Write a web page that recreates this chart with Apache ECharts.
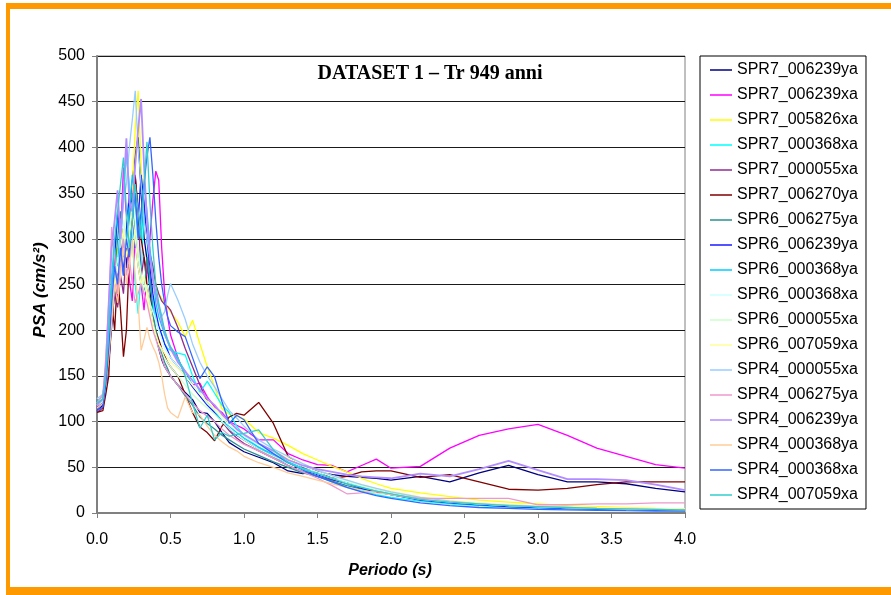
<!DOCTYPE html>
<html>
<head>
<meta charset="utf-8">
<script src="https://cdn.jsdelivr.net/npm/echarts/dist/echarts.min.js"></script>
<style>
  html, body { margin: 0; padding: 0; background: #ffffff; }
  #chart { width: 891px; height: 595px; }
</style>
</head>
<body>
<div id="chart"></div>
<script>
// Periods (s) at which the response spectra are sampled
const periods = [
  0, 0.04, 0.06, 0.08, 0.10, 0.12, 0.14, 0.16, 0.18, 0.20, 0.22, 0.24, 0.26, 0.28, 0.30,
  0.32, 0.34, 0.36, 0.38, 0.40, 0.42, 0.44, 0.46, 0.48, 0.50,
  0.55, 0.60, 0.65, 0.70, 0.75, 0.80, 0.85, 0.90, 0.95, 1.0,
  1.1, 1.2, 1.3, 1.4, 1.5, 1.6, 1.7, 1.8, 1.9, 2.0,
  2.2, 2.4, 2.6, 2.8, 3.0, 3.2, 3.4, 3.6, 3.8, 4.0
];

const xTicks = [0, 0.5, 1.0, 1.5, 2.0, 2.5, 3.0, 3.5, 4.0];
const yTicks = [0, 50, 100, 150, 200, 250, 300, 350, 400, 450, 500];

const recordNames = [
  'SPR7_006239ya', 'SPR7_006239xa', 'SPR7_005826xa', 'SPR7_000368xa', 'SPR7_000055xa',
  'SPR7_006270ya', 'SPR6_006275ya', 'SPR6_006239ya', 'SPR6_000368ya', 'SPR6_000368xa',
  'SPR6_000055xa', 'SPR6_007059xa', 'SPR4_000055xa', 'SPR4_006275ya', 'SPR4_006239ya',
  'SPR4_000368ya', 'SPR4_000368xa', 'SPR4_007059xa'
];

const recordColors = [
  '#000080', '#FF00FF', '#FFFF00', '#00FFFF', '#902c90',
  '#800000', '#2a9090', '#1a1aff', '#00CCFF', '#CCFFFF',
  '#CCFFCC', '#FFFF99', '#99CCFF', '#EE99CC', '#B38CFF',
  '#FFCC99', '#3366FF', '#33CCCC'
];

// PSA values (cm/s^2), one array per record, aligned with `periods`
const spr7_006239ya = [
  112,118,135,165,205,245,228,275,300,268,330,362,392,411,352,302,277,245,215,195,180,168,160,155,150,
  140,132,124,110,109,100,88,77,72,67,
  61,55,46,43,45,42,40,39,38,36,
  40,34,44,52,42,34,34,32,27,23
];
const spr7_006239xa = [
  115,122,150,195,250,262,232,300,378,322,255,232,300,282,250,222,262,300,342,374,364,290,240,215,195,
  170,150,140,142,127,116,110,100,96,92,
  80,80,65,58,53,52,45,52,59,49,
  51,71,85,92,97,85,71,62,53,49
];
const spr7_005826xa = [
  120,125,160,200,245,250,290,265,310,280,300,350,420,462,380,330,300,280,262,250,240,235,230,225,220,
  209,193,211,185,160,138,114,108,106,103,
  88,82,74,65,58,51,45,38,32,27,
  22,18,14,12,10,8,7,6,5,4.5
];
const spr7_000368xa = [
  118,122,140,185,230,280,320,300,350,390,360,300,250,218,260,330,300,250,230,210,200,195,185,180,178,
  175,173,150,132,144,131,118,110,95,85,
  72,62,52,45,40,34,28,24,20,17,
  13,10,8,6.5,5.5,4.5,4,3.5,3,2.5
];
const spr7_000055xa = [
  110,115,138,170,210,240,225,260,240,290,310,340,370,330,258,280,262,284,270,250,240,232,228,226,222,
  203,180,160,140,122,110,100,90,82,76,
  68,60,52,45,40,36,33,28,25,22,
  16,12,10,8.5,7,6,5.5,5,4.5,4
];
const spr7_006270ya = [
  110,112,130,150,230,200,262,222,171,200,282,330,368,330,300,280,250,232,212,200,190,180,172,165,160,
  150,130,110,94,88,79,95,105,109,107,
  121,98,62,50,46,38,40,45,46,46,
  39,42,34,26,25,27,31,34,34,34
];
const spr6_006275ya = [
  120,124,145,180,220,260,300,330,300,280,320,350,300,270,250,240,280,260,220,200,185,175,165,158,150,
  140,128,118,105,98,92,85,80,75,70,
  63,56,50,44,40,35,30,26,23,20,
  15,12,10,8.5,7,6,5,4.5,4,3.5
];
const spr6_006239ya = [
  115,120,150,190,240,280,330,300,260,310,350,330,290,320,370,340,300,270,240,220,205,195,185,178,170,
  160,150,138,128,118,110,100,92,85,80,
  70,62,55,48,42,37,32,27,23,20,
  14,11,9,7,6,5,4.5,4,3.5,3
];
const spr6_000368ya = [
  122,128,155,200,250,290,270,320,280,300,330,370,340,300,320,360,330,290,260,230,215,205,195,188,180,
  168,155,140,130,120,112,100,95,88,82,
  72,64,56,49,43,38,33,28,24,21,
  15,12,9.5,8,6.5,5.5,5,4.5,4,3.5
];
const spr6_000368xa = [
  125,128,150,185,230,270,250,300,320,290,310,340,320,280,260,250,240,230,220,210,200,190,180,175,170,
  160,150,140,130,120,112,104,96,90,84,
  74,66,58,51,45,40,35,30,26,23,
  17,13,11,9,7.5,6.5,5.5,5,4.5,4
];
const spr6_000055xa = [
  118,122,140,175,215,250,280,260,300,330,300,280,310,290,260,240,250,230,210,195,185,178,170,165,160,
  150,140,130,122,115,108,100,92,86,80,
  70,62,55,48,43,38,33,29,25,22,
  16,12.5,10,8,7,6,5,4.5,4,3.5
];
const spr6_007059xa = [
  120,125,145,180,220,260,240,290,310,280,300,330,300,270,250,260,240,220,205,195,185,180,175,170,165,
  158,150,140,130,122,114,106,98,92,86,
  76,68,60,53,47,41,36,31,27,24,
  18,14,11,9,8,7,6,5.5,5,4.5
];
const spr4_000055xa = [
  125,130,150,185,230,270,250,300,340,360,400,430,462,400,360,320,300,280,260,240,225,215,220,238,251,
  233,212,185,165,150,138,125,112,104,95,
  80,70,62,54,47,41,36,31,27,23,
  17,13,10,8.5,7,6,5,4.5,4,3.5
];
const spr4_006275ya = [
  120,130,170,230,313,280,240,270,300,260,280,250,230,240,251,240,230,215,200,190,180,170,160,155,150,
  140,130,120,112,106,100,92,85,80,75,
  68,60,52,45,38,30,21,22,24,20,
  16,16,16,16,9,9,10,10,11,11
];
const spr4_006239ya = [
  118,125,160,230,290,320,353,300,350,410,340,330,380,420,453,380,320,280,255,240,225,210,198,188,180,
  165,155,145,135,125,118,108,100,92,86,
  76,68,58,52,48,45,42,40,39,38,
  43,40,48,57,47,37,37,36,31,25
];
const spr4_000368ya = [
  115,120,140,170,210,250,230,260,290,250,270,300,260,230,178,190,203,190,182,175,165,150,130,115,110,
  104,127,110,107,95,85,78,72,68,62,
  55,50,44,40,36,32,28,25,22,20,
  15,12,10,8,7,6,5,4.5,4,3.5
];
const spr4_000368xa = [
  112,116,140,180,230,270,250,290,260,300,280,320,350,300,330,360,390,411,370,320,280,250,230,215,205,
  198,193,170,147,160,149,122,98,107,102,
  76,65,55,47,40,34,28,23,19,16,
  11,8,6,5,4,3.5,3,2.5,2.2,2
];
const spr4_007059xa = [
  120,125,150,200,260,300,330,360,389,330,290,320,360,330,300,360,406,340,290,250,230,215,200,190,182,
  170,150,120,93,107,80,88,84,86,87,
  91,69,55,48,43,38,32,28,24,21,
  15,12,10,8,7,6,5,4.5,4,3.5
];

const recordValues = [
  spr7_006239ya, spr7_006239xa, spr7_005826xa, spr7_000368xa, spr7_000055xa,
  spr7_006270ya, spr6_006275ya, spr6_006239ya, spr6_000368ya, spr6_000368xa,
  spr6_000055xa, spr6_007059xa, spr4_000055xa, spr4_006275ya, spr4_006239ya,
  spr4_000368ya, spr4_000368xa, spr4_007059xa
];

const chart = echarts.init(document.getElementById('chart'), null, { renderer: 'canvas' });

const series = recordNames.map((name, k) => ({
  name: name,
  type: 'line',
  symbol: 'none',
  showSymbol: false,
  animation: false,
  lineStyle: { color: recordColors[k], width: k === 14 ? 1.8 : 1.3 },
  itemStyle: { color: recordColors[k] },
  data: periods.map((t, i) => [t, recordValues[k][i]])
}));

const option = {
  backgroundColor: '#ffffff',
  animation: false,
  textStyle: { fontFamily: 'Liberation Sans, Arial, sans-serif' },
  grid: {
    left: 97, top: 56, right: 206, bottom: 82,
    show: true, borderColor: '#808080', borderWidth: 1, backgroundColor: '#ffffff'
  },
  xAxis: {
    type: 'value',
    min: xTicks[0], max: xTicks[xTicks.length - 1], interval: 0.5,
    axisLine: { show: true, lineStyle: { color: '#808080', width: 2 } },
    axisTick: { show: true, length: 5, lineStyle: { color: '#808080', width: 1 } },
    axisLabel: {
      color: '#000', fontSize: 16, margin: 19,
      formatter: v => v.toFixed(1)
    },
    splitLine: { show: false }
  },
  yAxis: {
    type: 'value',
    min: yTicks[0], max: yTicks[yTicks.length - 1], interval: 50,
    axisLine: { show: true, lineStyle: { color: '#808080', width: 2 } },
    axisTick: { show: true, length: 5, lineStyle: { color: '#808080', width: 1 } },
    axisLabel: { color: '#000', fontSize: 16, margin: 12 },
    splitLine: { show: true, lineStyle: { color: '#1a1a1a', width: 1 } }
  },
  legend: {
    orient: 'vertical',
    left: 700, top: 56,
    padding: [6, 8, 6, 10],
    icon: 'rect',
    itemWidth: 22, itemHeight: 1.5, itemGap: 9,
    borderColor: '#000', borderWidth: 1,
    backgroundColor: '#ffffff',
    textStyle: { color: '#000', fontSize: 16, lineHeight: 16 },
    data: recordNames
  },
  graphic: [
    // orange frame around the page
    { type: 'rect', shape: { x: 6, y: 3, width: 890, height: 6 }, style: { fill: '#FF9900' }, z: 100 },
    { type: 'rect', shape: { x: 6, y: 3, width: 4, height: 592 }, style: { fill: '#FF9900' }, z: 100 },
    { type: 'rect', shape: { x: 6, y: 587, width: 890, height: 8 }, style: { fill: '#FF9900' }, z: 100 },
    {
      type: 'text', z: 50,
      x: 430, y: 74,
      style: {
        text: 'DATASET 1 \u2013 Tr 949 anni',
        fill: '#000', font: 'bold 20px "Liberation Serif", "Times New Roman", serif',
        textAlign: 'center', textVerticalAlign: 'middle'
      }
    },
    {
      type: 'text', z: 50,
      x: 390, y: 571,
      style: {
        text: 'Periodo (s)',
        fill: '#000', font: 'italic bold 16px "Liberation Sans", Arial, sans-serif',
        textAlign: 'center', textVerticalAlign: 'middle'
      }
    },
    {
      type: 'text', z: 50,
      x: 40, y: 290, rotation: Math.PI / 2,
      style: {
        text: 'PSA (cm/s\u00B2)',
        fill: '#000', font: 'italic bold 17px "Liberation Sans", Arial, sans-serif',
        textAlign: 'center', textVerticalAlign: 'middle'
      }
    }
  ],
  series: series
};

chart.setOption(option);
</script>
</body>
</html>
